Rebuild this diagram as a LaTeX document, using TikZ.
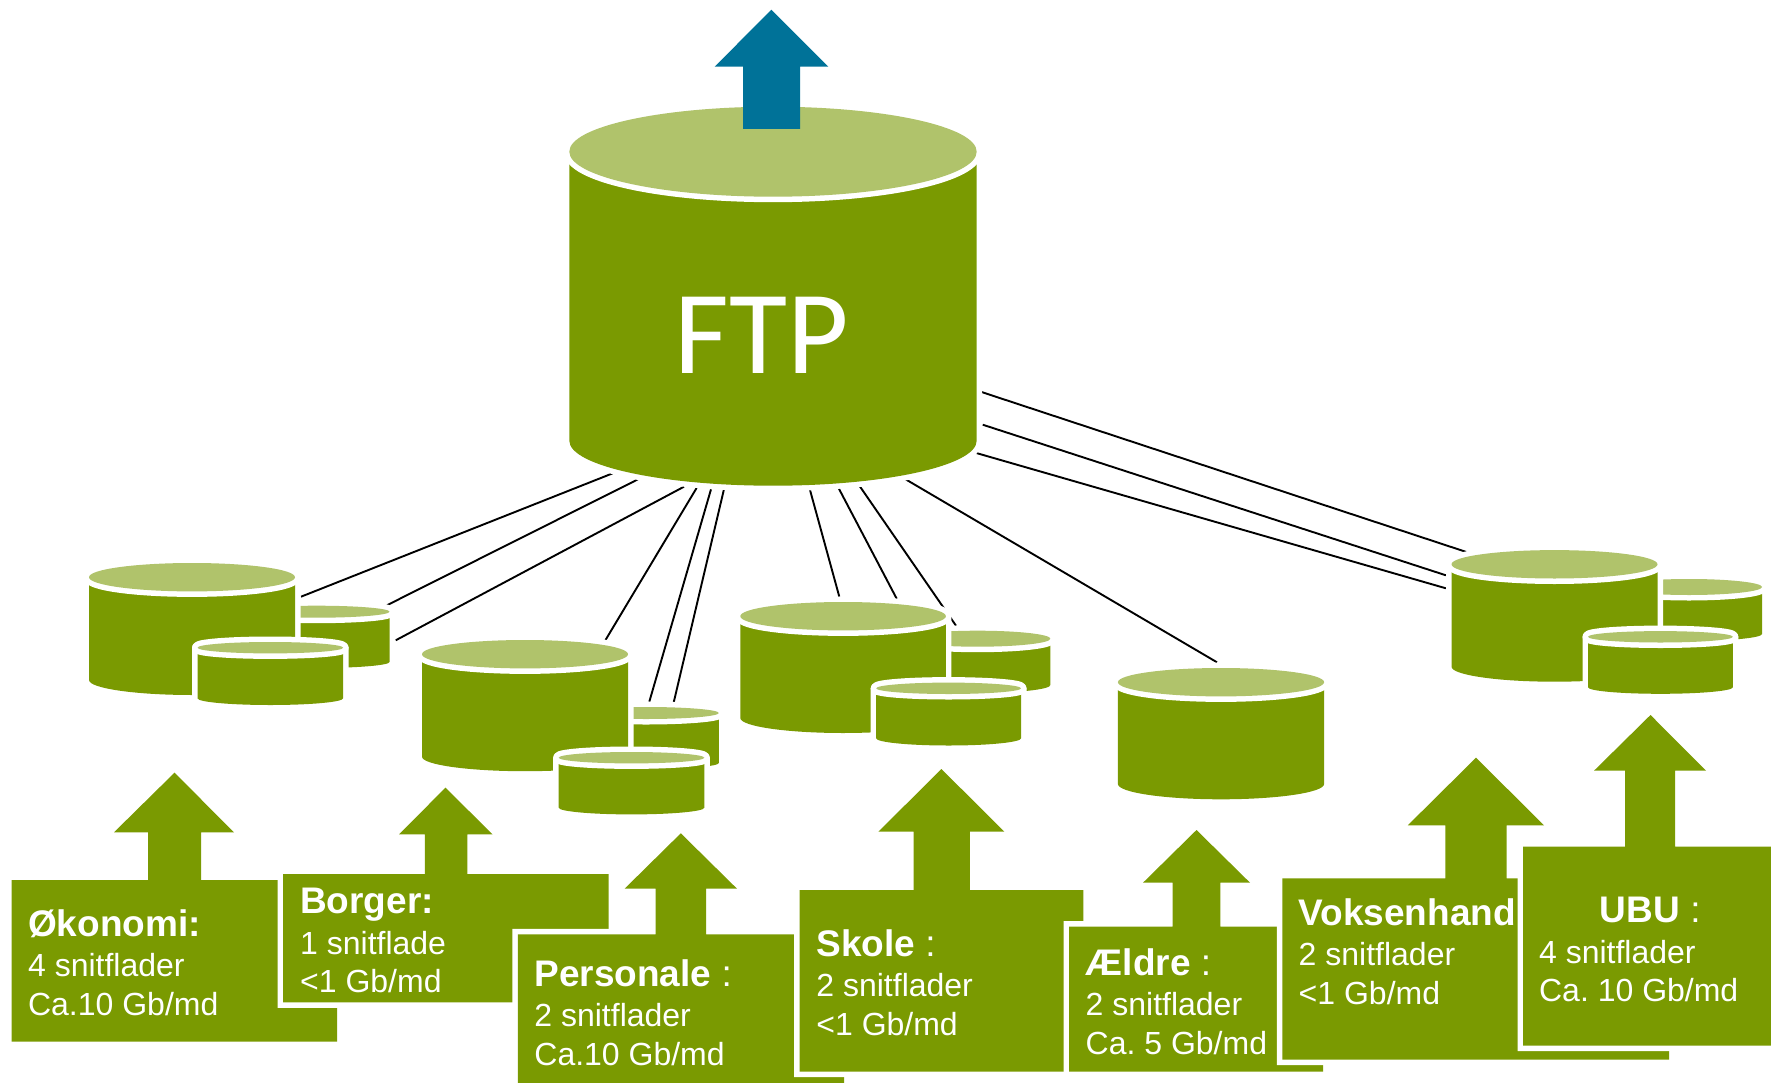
\documentclass[tikz,border=0pt]{standalone}
\usepackage{fontspec}
\setmainfont{Liberation Sans}
\newfontfamily\ftpfont{Carlito}
\definecolor{leaf}{HTML}{7A9A01}
\definecolor{leaflight}{HTML}{B0C36B}
\definecolor{petrol}{HTML}{007298}
\tikzset{
  callout/.style={fill=leaf,line join=round,preaction={draw=white,line width=11pt}},
  wire/.style={draw=black,line width=1.9pt},
  lbl/.style={anchor=base west,inner sep=0pt,text=white,xshift=-0.8pt,yshift=-1.2pt},
  blueup/.style={fill=petrol}
}
% name, cx, cy, rx, ry, bottom side y, bottom ry
\newcommand\cyl[7]{%
  \coordinate (#1) at (#2,#3);
  \path[draw=white,line width=11pt,line join=round]
    (#2-#4,#3) -- (#2-#4,#6) arc[start angle=180,end angle=0,x radius=#4,y radius=#7] -- (#2+#4,#3) -- cycle;
  \fill[leaf]
    (#2-#4,#3) -- (#2-#4,#6) arc[start angle=180,end angle=0,x radius=#4,y radius=#7] -- (#2+#4,#3) -- cycle;
  \path[draw=white,line width=11pt,line join=round] (#2,#3) ellipse[x radius=#4,y radius=#5];
  \fill[leaflight] (#2,#3) ellipse[x radius=#4,y radius=#5];
}
% name, x, y, first line, second line, third line
\newcommand\boxtext[6]{%
  \node[lbl] (#1) at (#2,#3) {\vtop{\frenchspacing\fontsize{32}{40.5}\selectfont
    \hbox{\fontsize{37}{40.5}\selectfont #4}\hbox{#5}\kern-2pt\hbox{#6}}};
}
\begin{document}
\begin{tikzpicture}[x=1pt,y=-1pt]
\useasboundingbox (0,0) rectangle (1771,1083);
\clip (0,0) rectangle (1771,1083);

% end points of the connectors
\coordinate (f1) at (612.7,473.3); \coordinate (a1) at (301,596.7);
\coordinate (f2) at (638,479.3);   \coordinate (a2) at (386.8,605.3);
\coordinate (f3) at (684,486.7);   \coordinate (a3) at (395.7,640.3);
\coordinate (f4) at (696.6,488);   \coordinate (b1) at (605.5,640);
\coordinate (f5) at (711,489.3);   \coordinate (b2) at (649.3,701.7);
\coordinate (f6) at (723.8,490);   \coordinate (b3) at (673.8,702);
\coordinate (f7) at (810,490);     \coordinate (c1) at (839.3,596.7);
\coordinate (f8) at (838.7,488.3); \coordinate (c2) at (896.7,598.7);
\coordinate (f9) at (859.8,486.3); \coordinate (c3) at (956,625.7);
\coordinate (f10) at (905.6,479.3);\coordinate (d1) at (1217,662.3);
\coordinate (f11) at (981.5,392);  \coordinate (e1) at (1466.4,552);
\coordinate (f12) at (982.7,424.7);\coordinate (e2) at (1445.9,575.3);
\coordinate (f13) at (975.9,452.9);\coordinate (e3) at (1445.9,588.3);
\foreach \p/\q in {f1/a1,f2/a2,f3/a3,f4/b1,f5/b2,f6/b3,f7/c1,f8/c2,f9/c3,f10/d1,f11/e1,f12/e2,f13/e3}
  \draw[wire] (\p) -- (\q);

% central FTP cylinder
\cyl{ftp}{773}{151.7}{203.7}{45}{440.7}{45}
\node[inner sep=0pt,anchor=base,text=white] (ftplabel) at (762,373) {\ftpfont\fontsize{119}{119}\selectfont FTP};
\path[blueup] (771.3,9.7) -- (828.3,66.7) -- (800,66.7) -- (800,129) -- (743,129) -- (743,66.7) -- (714.7,66.7) -- cycle;

% groups of cylinders
\cyl{cA2}{316.7}{611.7}{72.8}{6}{662}{6}
\cyl{cA}{192}{577.2}{103}{14.2}{680}{15}
\cyl{cA3}{270.3}{647.7}{72.8}{5.7}{698.3}{6.7}

\cyl{cB2}{646}{713}{72.8}{6}{763}{6}
\cyl{cB}{525}{654.2}{103}{14.2}{756.7}{14.5}
\cyl{cB3}{631.5}{757.7}{72.8}{5.7}{807.7}{6.7}

\cyl{cC2}{977.6}{638.7}{72.8}{8}{685}{8}
\cyl{cC}{843.1}{616.2}{102.8}{14.2}{718}{15}
\cyl{cC3}{948.6}{688.3}{72.4}{5.7}{738.3}{7.2}

\cyl{cD}{1221}{682.2}{103.1}{14.2}{784}{15.3}

\cyl{cE2}{1689}{587}{73}{8}{634}{7}
\cyl{cE}{1554.5}{564.3}{103}{14.2}{666.7}{15}
\cyl{cE3}{1660.4}{636.8}{72.4}{5.7}{687.3}{6.5}

% callouts
\path[callout] (11.5,880) -- (148,880) -- (148,832.3) -- (114,832.3) -- (174.5,772.7) -- (234,832.3) -- (201,832.3) -- (201,880) -- (337,880) -- (337,1041.7) -- (11.5,1041.7) -- cycle;
\boxtext{okonomi}{28.7}{935}{\bfseries Økonomi:}{4 snitflader}{Ca.10 Gb/md}

\path[callout] (283,874) -- (424.8,874) -- (424.8,834.3) -- (399,834.3) -- (445.5,787.7) -- (492.5,834.3) -- (467.3,834.3) -- (467.3,874) -- (608.5,874) -- (608.5,1002.3) -- (283,1002.3) -- cycle;
\boxtext{borger}{300.8}{912.7}{\bfseries Borger:}{1 snitflade}{<1 Gb/md}

\path[callout] (517.8,934.3) -- (655.6,934.3) -- (655.6,888.7) -- (624.6,888.7) -- (680.8,833.3) -- (737,888.7) -- (706,888.7) -- (706,934.3) -- (844,934.3) -- (844,1090) -- (517.8,1090) -- cycle;
\boxtext{personale}{535}{985}{{\bfseries Personale} :}{2 snitflader}{Ca.10 Gb/md}

\path[callout] (799.7,890) -- (913.5,890) -- (913.5,831.7) -- (878.4,831.7) -- (941.4,769) -- (1004.4,831.7) -- (969.8,831.7) -- (969.8,890) -- (1083.4,890) -- (1083.4,1071.7) -- (799.7,1071.7) -- cycle;
\boxtext{skole}{817}{955}{{\bfseries Skole} :}{2 snitflader}{<1 Gb/md}

\path[callout] (1069.2,926.7) -- (1172.6,926.7) -- (1172.6,882.7) -- (1143,882.7) -- (1196.5,830) -- (1250,882.7) -- (1220.3,882.7) -- (1220.3,926.7) -- (1323,926.7) -- (1323,1071.7) -- (1069.2,1071.7) -- cycle;
\boxtext{aeldre}{1086.3}{974}{{\bfseries Ældre} :}{2 snitflader}{Ca. 5 Gb/md}

\path[callout] (1282.3,878.3) -- (1445.3,878.3) -- (1445.3,825.3) -- (1407.8,825.3) -- (1476,757.7) -- (1544,825.3) -- (1506.7,825.3) -- (1506.7,878.3) -- (1669,878.3) -- (1669,1059.7) -- (1282.3,1059.7) -- cycle;
\boxtext{voksen}{1299.3}{924}{\bfseries Voksenhand}{2 snitflader}{<1 Gb/md}

\path[callout] (1523,846.7) -- (1625,846.7) -- (1625,770.7) -- (1594,770.7) -- (1650.5,715) -- (1706,770.7) -- (1675,770.7) -- (1675,846.7) -- (1790,846.7) -- (1790,1045.7) -- (1523,1045.7) -- cycle;
\boxtext{ubu}{1539.7}{921.7}{\kern60.8pt{\bfseries UBU} :}{4 snitflader}{Ca. 10 Gb/md}
\end{tikzpicture}
\end{document}
